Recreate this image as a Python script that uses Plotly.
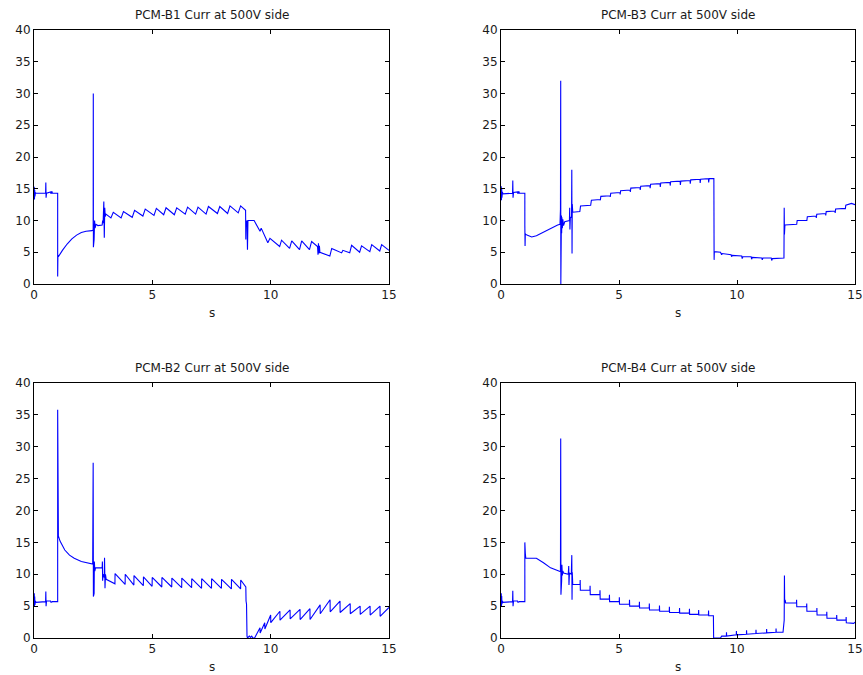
import plotly.graph_objects as go

# ================= DATA =================
x_ticks = [0, 5, 10, 15]
y_ticks = [0, 5, 10, 15, 20, 25, 30, 35, 40]
titles = ["PCM-B1 Curr at 500V side", "PCM-B3 Curr at 500V side",
          "PCM-B2 Curr at 500V side", "PCM-B4 Curr at 500V side"]
x_label = "s"

# ---------- PCM-B1 ----------
b1_head_t = [0.00, 0.01, 0.02, 0.03, 0.04, 0.06, 0.08, 0.49, 0.50, 0.51, 0.53, 0.70, 0.72, 0.75, 0.78,
             1.00, 1.00, 1.01, 1.03, 1.20, 1.40, 1.60, 1.80, 2.00, 2.20, 2.45, 2.50, 2.505, 2.51, 2.52,
             2.54, 2.56, 2.58, 2.62, 2.70, 2.88, 2.90, 2.92, 2.95, 2.97, 2.99, 3.01, 3.04, 3.10]
b1_head_v = [14.0, 15.3, 13.3, 14.8, 13.8, 14.4, 14.3, 14.3, 16.0, 13.6, 14.3, 14.5, 14.2, 14.6, 14.3,
             14.3, 1.2, 4.6, 4.3, 5.3, 6.3, 7.1, 7.7, 8.1, 8.3, 8.4, 8.5, 30.0, 5.8, 9.5,
             7.0, 10.0, 8.8, 9.4, 9.2, 9.3, 10.0, 9.6, 13.0, 7.3, 12.0, 10.6, 11.0, 10.8]
b1_saw_t = [3.35, 3.78, 4.25, 4.70, 5.17, 5.58, 6.03, 6.49, 6.93, 7.37, 7.85, 8.28, 8.73]
b1_saw_peak = [11.3, 11.4, 11.6, 11.8, 11.9, 12.0, 12.0, 12.1, 12.1, 12.2, 12.2, 12.3, 12.3]
b1_saw_trough = [10.4, 10.4, 10.5, 10.7, 10.8, 10.9, 10.9, 11.0, 11.0, 11.0, 11.1, 11.1, 11.2]
b1_tail_t = [8.90, 8.94, 8.95, 8.96, 8.98, 9.00, 9.02, 9.04, 9.30, 9.55, 9.60, 9.88, 9.97,
             10.38, 10.46, 10.80, 10.89, 11.22, 11.31, 11.64, 11.73, 11.98, 12.00, 12.02, 12.04,
             12.06, 12.08, 12.50, 12.58, 12.70, 13.00, 13.05, 13.34, 13.42, 13.76, 13.84,
             14.19, 14.27, 14.61, 14.69, 15.00]
b1_tail_v = [11.8, 11.6, 7.0, 10.0, 9.0, 10.0, 5.4, 10.0, 10.0, 8.3, 8.8, 6.5, 7.2,
             5.9, 6.9, 5.6, 6.8, 5.4, 6.8, 5.4, 6.7, 5.9, 4.6, 6.4, 4.8,
             6.0, 5.0, 4.4, 5.6, 5.4, 4.9, 5.3, 4.9, 6.1, 5.0, 6.0,
             5.1, 6.2, 5.2, 6.2, 5.3]

# ---------- PCM-B3 ----------
b3_head_t = [0.00, 0.01, 0.02, 0.03, 0.04, 0.06, 0.08, 0.49, 0.50, 0.51, 0.53, 0.70, 0.72, 0.75, 0.78,
             1.01, 1.01, 1.02, 1.03, 1.10, 1.30, 1.50, 1.80, 2.10, 2.40, 2.50, 2.52, 2.53, 2.535,
             2.54, 2.55, 2.56, 2.57, 2.58, 2.60, 2.62, 2.65, 2.70, 2.90, 2.91, 2.92, 2.94, 2.99,
             3.00, 3.01, 3.02, 3.04]
b3_head_v = [14.0, 15.4, 13.2, 15.0, 13.6, 14.5, 14.2, 14.3, 16.3, 13.6, 14.4, 14.5, 14.2, 14.6, 14.3,
             14.3, 9.2, 6.0, 7.9, 7.7, 7.4, 7.6, 8.2, 8.8, 9.3, 9.4, 11.8, 32.0, 0.0,
             11.5, 6.5, 10.8, 8.0, 10.5, 8.8, 10.2, 9.2, 9.8, 10.0, 12.0, 8.6, 10.5, 10.5,
             18.0, 4.8, 12.6, 11.3]
b3_step_t = [3.34, 3.80, 4.20, 4.62, 5.04, 5.47, 5.89, 6.31, 6.74, 7.16, 7.59, 8.01, 8.43, 8.79]
b3_step_v = [12.3, 13.2, 13.8, 14.3, 14.7, 15.1, 15.4, 15.7, 15.9, 16.1, 16.2, 16.4, 16.5, 16.6]
b3_mid_t = [9.02, 9.03, 9.04, 9.30, 9.35, 9.37, 9.75, 9.77, 9.80, 10.20, 10.22, 10.25, 10.60, 10.62,
            10.65, 11.05, 11.07, 11.10, 11.45, 11.47, 11.50, 11.99, 12.00, 12.01, 12.03]
b3_mid_v = [16.6, 3.8, 5.1, 5.0, 4.6, 4.8, 4.6, 4.3, 4.5, 4.4, 4.0, 4.3, 4.3, 3.9,
            4.2, 4.1, 3.8, 4.1, 4.1, 3.7, 4.0, 4.1, 12.0, 7.8, 9.3]
b3_step2_t = [12.52, 12.95, 13.35, 13.75, 14.15, 14.58]
b3_step2_v = [10.0, 10.6, 11.0, 11.4, 11.8, 12.4]
b3_end_t = [14.85, 15.00]
b3_end_v = [12.7, 12.5]

# ---------- PCM-B2 ----------
b2_head_t = [0.00, 0.01, 0.02, 0.03, 0.04, 0.06, 0.08, 0.49, 0.50, 0.51, 0.53, 0.70, 0.72, 0.78,
             1.00, 1.00, 1.01, 1.02, 1.03, 1.10, 1.20, 1.30, 1.50, 1.70, 2.00, 2.30, 2.48, 2.50,
             2.51, 2.52, 2.54, 2.55, 2.57, 2.60, 2.88, 2.89, 2.90, 2.92, 2.97, 2.98, 3.00, 3.02, 3.05]
b2_head_v = [5.5, 7.0, 5.0, 6.5, 5.2, 5.8, 5.6, 5.7, 7.3, 5.0, 5.8, 5.8, 5.6, 5.7,
             5.7, 35.8, 14.5, 17.8, 16.0, 15.2, 14.4, 13.8, 13.0, 12.5, 12.0, 11.7, 11.6, 27.5,
             6.5, 12.0, 7.0, 12.0, 10.5, 11.0, 11.0, 12.0, 9.0, 10.0, 9.5, 12.6, 7.8, 10.0, 9.2]
b2_saw_t = [3.42, 3.85, 4.22, 4.62, 4.99, 5.40, 5.82, 6.24, 6.66, 7.08, 7.50, 7.92, 8.34, 8.73]
b2_saw_peak = [10.1, 10.0, 9.8, 9.6, 9.5, 9.5, 9.4, 9.4, 9.3, 9.3, 9.3, 9.2, 9.2, 9.1]
b2_saw_trough = [8.5, 8.4, 8.3, 8.2, 8.1, 8.0, 8.0, 7.9, 7.9, 7.8, 7.8, 7.8, 7.7, 7.7]
b2_mid_t = [8.90, 8.95, 8.96, 8.98, 9.00, 9.02, 9.10, 9.15, 9.20, 9.25, 9.32]
b2_mid_v = [8.3, 8.0, 5.8, 5.3, 0.3, 0.0, 0.3, 0.1, 0.3, 0.0, 0.0]
b2_rise_t = [9.55, 9.75, 10.00, 10.39, 10.82, 11.24, 11.66, 12.09, 12.51, 12.93, 13.36, 13.78, 14.20, 14.62]
b2_rise_peak = [1.6, 2.4, 3.6, 4.2, 4.4, 4.5, 4.6, 5.2, 6.0, 5.8, 5.4, 5.0, 5.0, 5.0]
b2_rise_trough = [0.8, 1.4, 2.4, 2.8, 3.0, 2.9, 2.9, 3.8, 4.1, 4.0, 3.8, 3.7, 3.6, 3.4]
b2_end_t = [15.00]
b2_end_v = [4.8]

# ---------- PCM-B4 ----------
b4_head_t = [0.00, 0.01, 0.02, 0.03, 0.04, 0.06, 0.08, 0.49, 0.50, 0.51, 0.53, 0.70, 0.72, 0.78,
             1.01, 1.01, 1.02, 1.03, 1.05, 1.50, 1.80, 2.10, 2.45, 2.52, 2.53, 2.54, 2.55, 2.57,
             2.58, 2.60, 2.62, 2.65, 2.85, 2.87, 2.88, 2.90, 2.98, 3.00, 3.01, 3.02, 3.04]
b4_head_v = [5.5, 7.0, 5.0, 6.6, 5.3, 5.8, 5.6, 5.7, 7.4, 5.0, 5.8, 5.8, 5.6, 5.7,
             5.7, 15.0, 12.4, 13.3, 12.5, 12.5, 11.8, 11.0, 10.5, 10.4, 31.3, 6.8, 11.8, 9.0,
             11.5, 9.8, 10.5, 10.2, 10.0, 11.3, 8.3, 10.2, 10.0, 13.0, 6.0, 10.3, 8.4]
b4_step_t = [3.35, 3.77, 4.19, 4.59, 5.01, 5.44, 5.86, 6.28, 6.71, 7.13, 7.56, 7.98, 8.37, 8.79]
b4_step_v = [7.5, 6.8, 6.1, 5.7, 5.3, 5.0, 4.7, 4.4, 4.2, 4.0, 3.9, 3.7, 3.6, 3.5]
b4_mid_t = [9.00, 9.01, 9.30, 9.35]
b4_mid_v = [3.5, 0.0, 0.0, 0.3]
b4_low_t = [9.55, 9.97, 10.40, 10.80, 11.25, 11.65]
b4_low_v = [0.3, 0.5, 0.6, 0.7, 0.8, 0.9]
b4_jump_t = [11.95, 11.97, 12.00, 12.01, 12.02, 12.04, 12.06]
b4_jump_v = [0.9, 2.7, 2.8, 9.8, 5.6, 6.0, 5.5]
b4_step2_t = [12.52, 12.95, 13.38, 13.80, 14.22, 14.62]
b4_step2_v = [4.9, 4.2, 3.6, 3.1, 2.8, 2.4]
b4_end_t = [14.95, 15.00]
b4_end_v = [2.3, 2.5]

# ================= build polylines from the read values =================
def rise_teeth(ts, peaks, troughs):
    xs, ys = [], []
    for t, p, q in zip(ts, peaks, troughs):
        xs += [t - 0.1, t]
        ys += [q, p]
    return xs, ys

def jump_teeth(ts, peaks, troughs):
    xs, ys = [], []
    for t, p, q in zip(ts, peaks, troughs):
        xs += [t, t + 0.005]
        ys += [q, p]
    return xs, ys

def drop_teeth(ts, peaks, troughs):
    xs, ys = [], []
    for t, p, q in zip(ts, peaks, troughs):
        xs += [t, t + 0.005]
        ys += [p, q]
    return xs, ys

def up_steps(ts, levels, start, dip=0.6):
    xs, ys = [], []
    prev = start
    for t, l in zip(ts, levels):
        xs += [t, t + 0.01, t + 0.03]
        ys += [prev + 0.1, l - dip, l]
        prev = l
    return xs, ys

def down_steps(ts, levels, start, spike=0.7):
    xs, ys = [], []
    prev = start
    for t, l in zip(ts, levels):
        xs += [t, t + 0.005, t + 0.012]
        ys += [prev, prev + spike, l]
        prev = l
    return xs, ys

sx, sy = rise_teeth(b1_saw_t, b1_saw_peak, b1_saw_trough)
b1_x = b1_head_t + sx + b1_tail_t
b1_y = b1_head_v + sy + b1_tail_v

s1x, s1y = up_steps(b3_step_t, b3_step_v, b3_head_v[-1])
s2x, s2y = up_steps(b3_step2_t, b3_step2_v, b3_mid_v[-1])
b3_x = b3_head_t + s1x + b3_mid_t + s2x + b3_end_t
b3_y = b3_head_v + s1y + b3_mid_v + s2y + b3_end_v

jx, jy = jump_teeth(b2_saw_t, b2_saw_peak, b2_saw_trough)
dx, dy = drop_teeth(b2_rise_t, b2_rise_peak, b2_rise_trough)
b2_x = b2_head_t + jx + b2_mid_t + dx + b2_end_t
b2_y = b2_head_v + jy + b2_mid_v + dy + b2_end_v

d1x, d1y = down_steps(b4_step_t, b4_step_v, b4_head_v[-1])
lx, ly = [], []
for t, l in zip(b4_low_t, b4_low_v):
    lx += [t, t + 0.005, t + 0.012]
    ly += [l, l + 0.6, l]
d2x, d2y = down_steps(b4_step2_t, b4_step2_v, b4_jump_v[-1], spike=0.5)
b4_x = b4_head_t + d1x + b4_mid_t + lx + b4_jump_t + d2x + b4_end_t
b4_y = b4_head_v + d1y + b4_mid_v + ly + b4_jump_v + d2y + b4_end_v

# ================= FIGURE =================
W, H = 863, 675
panels = [  # (x, y, px_left, px_right, px_top, px_bottom)
    (b1_x, b1_y, 34, 389, 30, 284),
    (b3_x, b3_y, 501, 855, 30, 284),
    (b2_x, b2_y, 34, 389, 383, 638),
    (b4_x, b4_y, 501, 855, 383, 638),
]
FONT = "DejaVu Sans, Liberation Sans, Arial, sans-serif"
TXT = "#1a1a1a"
fig = go.Figure()
layout = dict(width=W, height=H, margin=dict(l=0, r=0, t=0, b=0, pad=0),
              paper_bgcolor="white", plot_bgcolor="white", showlegend=False,
              font=dict(family=FONT, size=12, color=TXT))
annotations = []
for i, (xs, ys, l, r, t, b) in enumerate(panels):
    n = "" if i == 0 else str(i + 1)
    fig.add_trace(go.Scatter(x=xs, y=ys, mode="lines", xaxis="x" + n, yaxis="y" + n,
                             line=dict(color="#0000ff", width=1.1), hoverinfo="skip"))
    axcommon = dict(showline=True, linecolor="black", linewidth=1, mirror="ticks",
                    ticks="inside", ticklen=4, tickcolor="black", showgrid=False,
                    zeroline=False, automargin=False,
                    tickfont=dict(family=FONT, size=12, color=TXT))
    layout["xaxis" + n] = dict(domain=[l / W, r / W], range=[0, 15], tickvals=x_ticks,
                               anchor="y" + n, **axcommon)
    layout["yaxis" + n] = dict(domain=[1 - b / H, 1 - t / H], range=[0, 40], tickvals=y_ticks,
                               anchor="x" + n, **axcommon)
    cx = (l + r) / 2 / W
    annotations.append(dict(text=titles[i], x=cx, y=1 - (t - 15) / H, xref="paper", yref="paper",
                            showarrow=False, xanchor="center", yanchor="middle",
                            font=dict(family=FONT, size=12, color=TXT)))
    annotations.append(dict(text=x_label, x=cx, y=1 - (b + 29) / H, xref="paper", yref="paper",
                            showarrow=False, xanchor="center", yanchor="middle",
                            font=dict(family=FONT, size=12, color=TXT)))
layout["annotations"] = annotations
fig.update_layout(**layout)
fig.write_html("out.html", config={"displayModeBar": False},
               post_script="document.body.style.margin='0px';document.body.style.overflow='hidden';")
